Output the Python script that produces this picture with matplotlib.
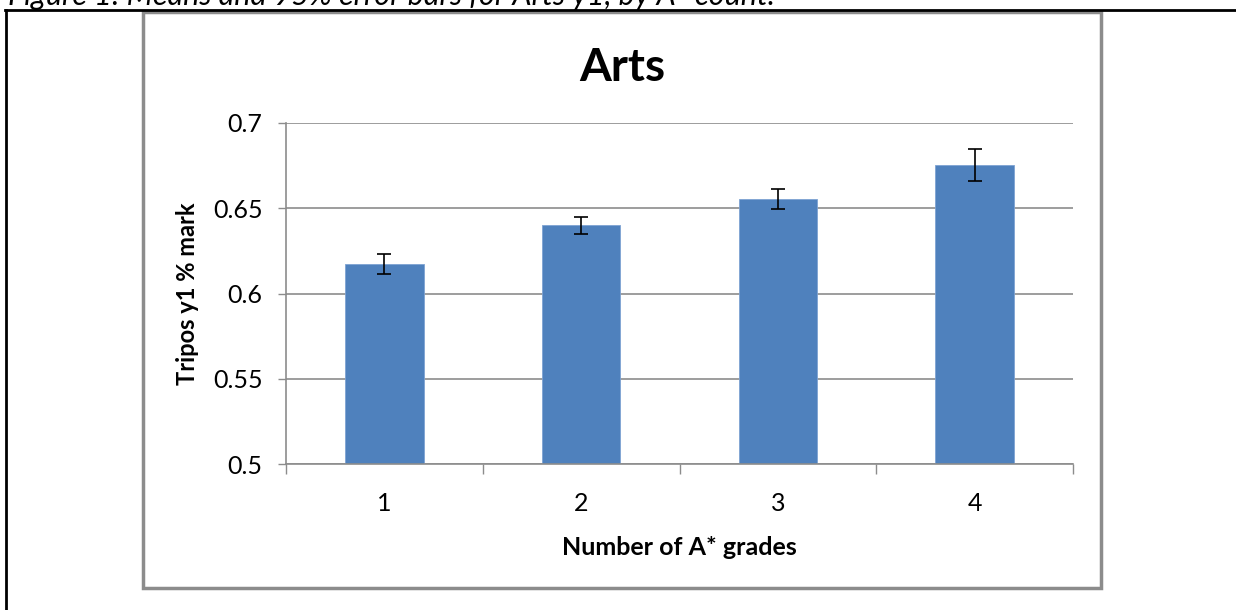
import matplotlib.pyplot as plt
from matplotlib.patches import Rectangle
from matplotlib.lines import Line2D

plt.rcParams['font.family'] = ['Lato', 'DejaVu Sans']

# data
grades = [1, 2, 3, 4]
means = [0.6175, 0.6400, 0.6553, 0.6755]
errs = [0.0058, 0.0050, 0.0057, 0.0094]

W, H = 1236, 610
fig = plt.figure(figsize=(W / 100, H / 100), dpi=100)

# cut-off caption and outer box of the document
fig.text(8 / W, 1 - 5 / H, 'Figure 1: Means and 95% error bars for Arts y1, by A* count.',
         style='italic', fontsize=22, ha='left', va='baseline', color='black')
fig.add_artist(Line2D([5 / W, 1], [1 - 10 / H, 1 - 10 / H], transform=fig.transFigure,
                      color='black', lw=2))
fig.add_artist(Line2D([6 / W, 6 / W], [0, 1 - 10 / H], transform=fig.transFigure,
                      color='black', lw=2))

# chart area border
fig.add_artist(Rectangle((143 / W, 1 - 588 / H), (1101 - 143) / W, (588 - 12) / H,
                         transform=fig.transFigure, fill=False, ec='#8c8c8c', lw=2.5))

ax = fig.add_axes([286 / W, 1 - 464 / H, (1073 - 286) / W, (464 - 123) / H])
ax.bar(grades, means, width=0.4, color='#4F81BD', edgecolor='#7ea3d3', lw=0.6, zorder=2)
ax.errorbar(grades, means, yerr=errs, fmt='none', ecolor='black', elinewidth=1.2,
            capsize=4.7, capthick=1.2, zorder=3)

ax.set_xlim(0.5, 4.5)
ax.set_ylim(0.5, 0.7)
ax.set_yticks([0.5, 0.55, 0.6, 0.65, 0.7])
ax.set_yticklabels(['0.5', '0.55', '0.6', '0.65', '0.7'])
ax.set_xticks(grades)
ax.set_xticks([0.5, 1.5, 2.5, 3.5, 4.5], minor=True)
ax.tick_params(axis='x', which='major', length=0, pad=20, labelsize=18)
ax.tick_params(axis='x', which='minor', length=7, width=1, color='#8c8c8c', direction='out')
ax.tick_params(axis='y', length=6, width=1, color='#8c8c8c', pad=11, labelsize=18)
ax.grid(axis='y', color='#8c8c8c', lw=1.2, zorder=0)
ax.set_axisbelow(True)
for s in ['top', 'right']:
    ax.spines[s].set_visible(False)
for s in ['left', 'bottom']:
    ax.spines[s].set_color('#8c8c8c')
    ax.spines[s].set_linewidth(1.2)

ax.set_xlabel('Number of A* grades', fontsize=18, fontweight='bold', labelpad=15)
ax.set_ylabel('Tripos y1 % mark', fontsize=17, fontweight='bold', labelpad=10)
fig.text(622 / W, 1 - 68 / H, 'Arts', fontsize=33, fontweight='bold', ha='center', va='center')

fig.savefig('out.png', dpi=100)
